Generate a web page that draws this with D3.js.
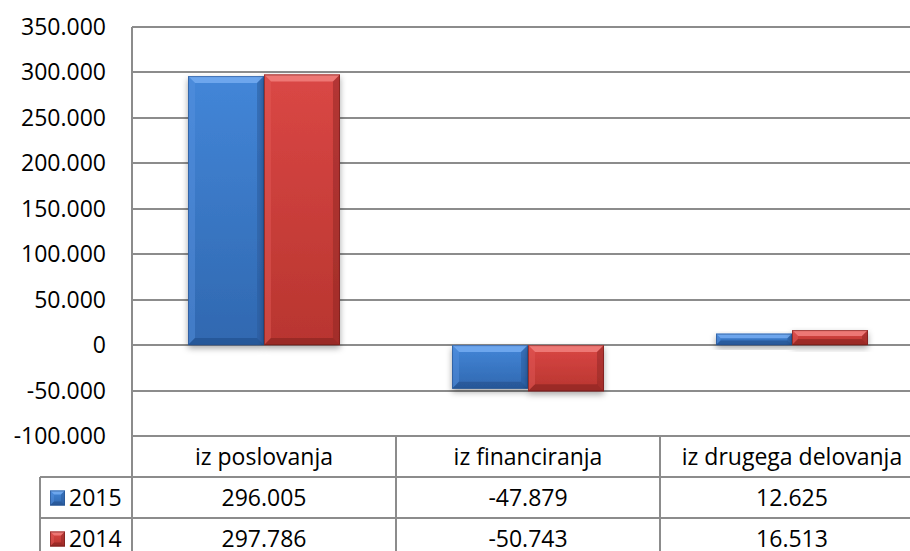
<!DOCTYPE html>
<html>
<head>
<meta charset="utf-8">
<script src="https://cdn.jsdelivr.net/npm/d3@7"></script>
<style>
  html, body { margin: 0; padding: 0; background: #fff; }
  svg { display: block; }
  text { font-family: "Open Sans", sans-serif; fill: #000; }
</style>
</head>
<body>
<svg id="chart" width="910" height="551"></svg>
<script>
  // data
  var categories = ['iz poslovanja', 'iz financiranja', 'iz drugega delovanja']
  var years = ['2015', '2014']
  var values2015 = [296005, -47879, 12625]
  var values2014 = [297786, -50743, 16513]
  var yTicks = [-100000, -50000, 0, 50000, 100000, 150000, 200000, 250000, 300000, 350000]

  var series = [
    { year: '2015', values: values2015, fill: ['#4386d8', '#3068b0'], top: '#72aaf0', left: '#5893e0', right: '#2a5a9c', bottom: '#234f8a', edge: '#24508c' },
    { year: '2014', values: values2014, fill: ['#da4745', '#b8352f'], top: '#ef7d7a', left: '#e25c59', right: '#8e2624', bottom: '#862320', edge: '#6e1c1a' }
  ]

  var locale = d3.formatLocale({ decimal: ',', thousands: '.', grouping: [3], currency: ['', ''], minus: '-' })
  var fmt = locale.format(',.0f')

  //
  // Layout
  //
  var plotLeft = 132, plotRight = 924, plotTop = 27, plotBottom = 436
  var rowH = 41, tableLeft = 40
  var gridColor = '#8c8c8c'
  var fontSize = '23px'

  var svg = d3.select('#chart')
  var defs = svg.append('defs')

  var x = d3.scaleBand().domain(categories).range([plotLeft, plotRight])
  var x1 = d3.scaleBand().domain(years).range([0, x.bandwidth()]).paddingOuter(0.737)
  var y = d3.scaleLinear().domain([-100000, 350000]).range([plotBottom, plotTop])

  series.forEach(function (s, i) {
    var g = defs.append('linearGradient').attr('id', 'grad' + i)
      .attr('x1', 0).attr('y1', 0).attr('x2', 0).attr('y2', 1)
    g.append('stop').attr('offset', '0%').attr('stop-color', s.fill[0])
    g.append('stop').attr('offset', '100%').attr('stop-color', s.fill[1])
  })

  var shadow = defs.append('filter').attr('id', 'shadow')
    .attr('x', '-20%').attr('y', '-20%').attr('width', '140%').attr('height', '160%')
  shadow.append('feDropShadow').attr('dx', 0).attr('dy', 3).attr('stdDeviation', 3)
    .attr('flood-color', '#000').attr('flood-opacity', 0.35)

  // gridlines
  svg.append('g').selectAll('line').data(yTicks).join('line')
    .attr('x1', plotLeft).attr('x2', plotRight)
    .attr('y1', function (d) { return Math.round(y(d)) })
    .attr('y2', function (d) { return Math.round(y(d)) })
    .attr('stroke', gridColor).attr('stroke-width', 2)

  // y axis labels
  svg.append('g').selectAll('text').data(yTicks).join('text')
    .attr('x', 106).attr('y', function (d) { return y(d) })
    .attr('dy', '0.35em').attr('text-anchor', 'end')
    .style('font-size', fontSize)
    .text(function (d) { return fmt(d) })

  // beveled bar
  function bevelBar(g, bx, by, w, h, s, i, maxB) {
    var b = Math.min(maxB, h / 2.5, w / 2)
    var p = function (pts) { return pts.map(function (q) { return q.join(',') }).join(' ') }
    g.append('rect').attr('x', bx).attr('y', by).attr('width', w).attr('height', h)
      .attr('fill', 'url(#grad' + i + ')')
    g.append('polygon').attr('fill', s.top).attr('opacity', 0.9)
      .attr('points', p([[bx, by], [bx + w, by], [bx + w - b, by + b], [bx + b, by + b]]))
    g.append('polygon').attr('fill', s.left).attr('opacity', 0.45)
      .attr('points', p([[bx, by], [bx + b, by + b], [bx + b, by + h - b], [bx, by + h]]))
    g.append('polygon').attr('fill', s.right).attr('opacity', 0.5)
      .attr('points', p([[bx + w, by], [bx + w, by + h], [bx + w - b, by + h - b], [bx + w - b, by + b]]))
    g.append('polygon').attr('fill', s.bottom).attr('opacity', 0.6)
      .attr('points', p([[bx, by + h], [bx + b, by + h - b], [bx + w - b, by + h - b], [bx + w, by + h]]))
    g.append('rect').attr('x', bx + 0.5).attr('y', by + 0.5).attr('width', w - 1).attr('height', h - 1)
      .attr('fill', 'none').attr('stroke', s.edge).attr('stroke-width', 1).attr('opacity', 0.6)
  }

  // bars
  var barsG = svg.append('g')
  categories.forEach(function (c, ci) {
    series.forEach(function (s, si) {
      var v = s.values[ci]
      var bx = x(c) + x1(s.year)
      var y0 = y(Math.max(0, v)), y1 = y(Math.min(0, v))
      var g = barsG.append('g').attr('filter', 'url(#shadow)')
      bevelBar(g, bx, y0, x1.bandwidth(), y1 - y0, s, si, 7)
    })
  })

  // data table
  var tableG = svg.append('g')
  var rowsY = [plotBottom, plotBottom + rowH, plotBottom + 2 * rowH, plotBottom + 3 * rowH]
  tableG.append('line').attr('x1', plotLeft).attr('x2', plotLeft).attr('y1', plotTop).attr('y2', 551)
    .attr('stroke', gridColor).attr('stroke-width', 2)
  tableG.append('line').attr('x1', plotLeft).attr('x2', plotRight).attr('y1', plotTop).attr('y2', plotTop)
    .attr('stroke', gridColor).attr('stroke-width', 2)
  tableG.append('line').attr('x1', tableLeft).attr('x2', tableLeft).attr('y1', rowsY[1]).attr('y2', 551)
    .attr('stroke', gridColor).attr('stroke-width', 2)
  ;[rowsY[1], rowsY[2]].forEach(function (ry) {
    tableG.append('line').attr('x1', tableLeft).attr('x2', plotRight).attr('y1', ry).attr('y2', ry)
      .attr('stroke', gridColor).attr('stroke-width', 2)
  })
  categories.slice(1).forEach(function (c) {
    tableG.append('line').attr('x1', x(c)).attr('x2', x(c)).attr('y1', plotBottom).attr('y2', 551)
      .attr('stroke', gridColor).attr('stroke-width', 2)
  })

  // header labels
  tableG.selectAll('text.cat').data(categories).join('text').attr('class', 'cat')
    .attr('x', function (d) { return x(d) + x.bandwidth() / 2 })
    .attr('y', plotBottom + rowH / 2).attr('dy', '0.35em').attr('text-anchor', 'middle')
    .style('font-size', fontSize)
    .text(function (d) { return d })

  // value rows
  series.forEach(function (s, si) {
    var cy = rowsY[si + 1] + rowH / 2
    tableG.selectAll('text.v' + si).data(s.values).join('text').attr('class', 'v' + si)
      .attr('x', function (d, i) { return x(categories[i]) + x.bandwidth() / 2 })
      .attr('y', cy).attr('dy', '0.35em').attr('text-anchor', 'middle')
      .style('font-size', fontSize)
      .text(function (d) { return fmt(d) })
    var kg = tableG.append('g')
    bevelBar(kg, 50, cy - 7, 15, 15, s, si, 4)
    tableG.append('text').attr('x', 69).attr('y', cy).attr('dy', '0.35em')
      .style('font-size', fontSize).text(s.year)
  })
</script>
</body>
</html>
